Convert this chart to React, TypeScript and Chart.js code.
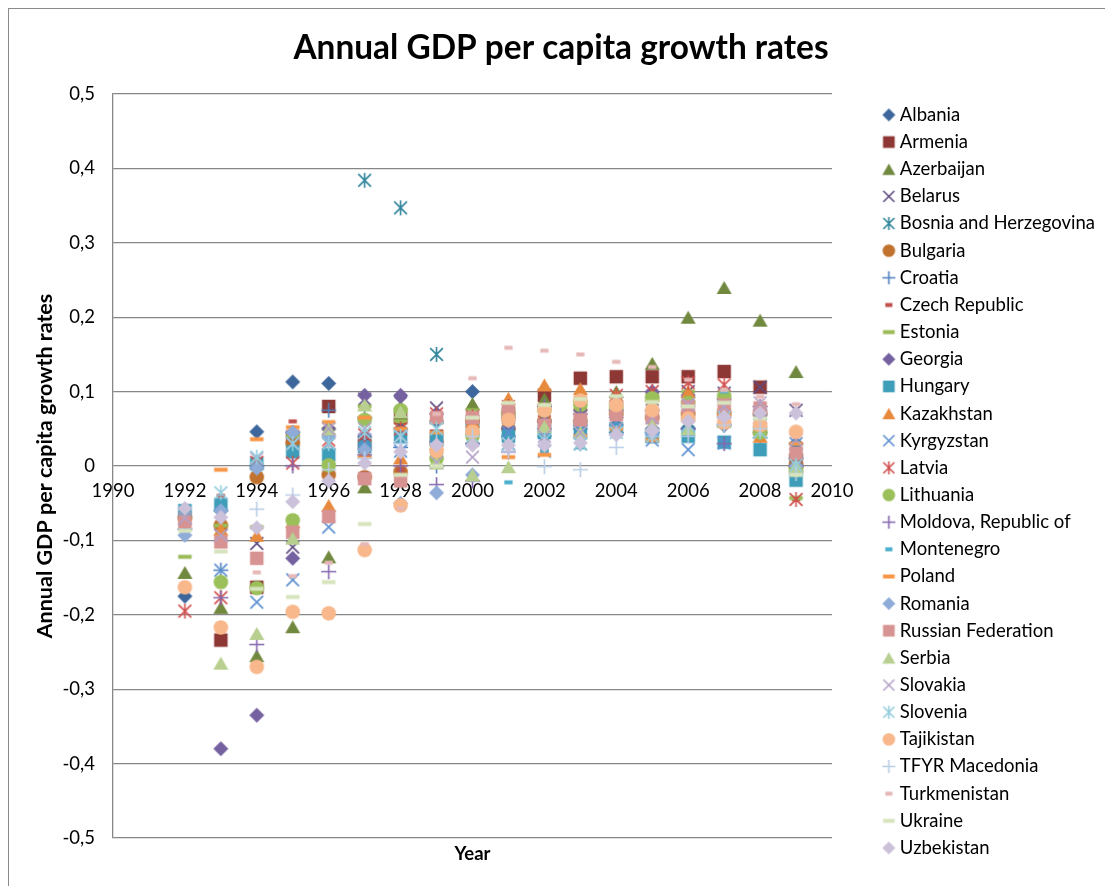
import React, { useEffect, useRef } from "react";
import { Chart, registerables } from "chart.js";

Chart.register(...registerables);

const years = [1992, 1993, 1994, 1995, 1996, 1997, 1998, 1999, 2000, 2001, 2002, 2003, 2004, 2005, 2006, 2007, 2008, 2009];

const countries = [
  "Albania", "Armenia", "Azerbaijan", "Belarus", "Bosnia and Herzegovina", "Bulgaria", "Croatia",
  "Czech Republic", "Estonia", "Georgia", "Hungary", "Kazakhstan", "Kyrgyzstan", "Latvia", "Lithuania",
  "Moldova, Republic of", "Montenegro", "Poland", "Romania", "Russian Federation", "Serbia", "Slovakia",
  "Slovenia", "Tajikistan", "TFYR Macedonia", "Turkmenistan", "Ukraine", "Uzbekistan",
];

const albania = [-0.175, -0.06, 0.046, 0.113, 0.111, 0.04, 0.05, 0.06, 0.1, 0.065, 0.04, 0.05, 0.055, 0.05, 0.05, 0.055, 0.07, 0.03];
const armenia = [null, -0.234, -0.163, 0.039, 0.08, 0.03, 0.065, 0.04, 0.06, 0.07, 0.095, 0.118, 0.12, 0.12, 0.12, 0.127, 0.106, 0.008];
const azerbaijan = [-0.143, -0.19, -0.255, -0.216, -0.122, -0.028, 0.07, 0.065, 0.084, 0.08, 0.09, 0.095, 0.1, 0.138, 0.2, 0.24, 0.196, 0.127];
const belarus = [-0.07, -0.093, -0.104, -0.109, 0.03, 0.09, 0.085, 0.078, 0.06, 0.05, 0.055, 0.075, 0.085, 0.09, 0.1, 0.098, 0.106, 0.075];
const bosnia = [null, null, null, null, null, 0.384, 0.347, 0.15, 0.055, 0.03, 0.05, 0.03, 0.05, 0.04, 0.06, 0.06, 0.055, 0.005];
const bulgaria = [-0.07, -0.08, -0.015, 0.03, -0.012, -0.015, -0.008, 0.03, 0.06, 0.05, 0.06, 0.06, 0.07, 0.065, 0.07, 0.07, 0.07, 0.0];
const croatia = [-0.085, -0.14, 0.0, 0.045, 0.075, 0.065, 0.025, 0.0, 0.03, 0.04, 0.05, 0.055, 0.045, 0.045, 0.05, 0.055, 0.038, 0.01];
const czech = [null, -0.04, 0.005, 0.06, 0.04, -0.01, -0.005, 0.015, 0.04, 0.03, 0.02, 0.035, 0.045, 0.065, 0.065, 0.06, 0.04, -0.045];
const estonia = [-0.122, -0.08, -0.082, 0.04, 0.05, 0.08, 0.06, 0.0, 0.075, 0.07, 0.08, 0.075, 0.075, 0.095, 0.1, 0.075, 0.044, -0.043];
const georgia = [null, -0.38, -0.335, -0.124, 0.05, 0.095, 0.095, 0.07, 0.03, 0.05, 0.06, 0.075, 0.065, 0.1, 0.095, 0.09, 0.045, 0.0];
const hungary = [-0.06, -0.052, 0.003, 0.019, 0.015, 0.026, 0.039, 0.035, 0.05, 0.04, 0.045, 0.045, 0.05, 0.04, 0.04, 0.032, 0.022, -0.019];
const kazakhstan = [null, -0.085, -0.093, -0.075, -0.053, 0.02, 0.011, 0.03, 0.06, 0.091, 0.109, 0.104, 0.095, 0.095, 0.1, 0.08, 0.04, 0.0];
const kyrgyzstan = [null, -0.14, -0.183, -0.153, -0.082, 0.035, 0.02, 0.025, 0.035, 0.045, 0.02, 0.05, 0.06, 0.035, 0.022, 0.031, 0.06, 0.03];
const latvia = [-0.195, -0.177, 0.005, 0.004, 0.035, 0.042, 0.05, 0.07, 0.066, 0.08, 0.075, 0.085, 0.095, 0.1, 0.112, 0.109, 0.05, -0.045];
const lithuania = [null, -0.156, -0.164, -0.073, 0.001, 0.062, 0.075, 0.01, 0.04, 0.07, 0.075, 0.082, 0.08, 0.091, 0.085, 0.094, 0.045, -0.005];
const moldova = [null, -0.177, -0.24, 0.0, -0.142, 0.015, 0.0, -0.025, -0.02, 0.019, 0.08, 0.07, 0.075, 0.075, 0.05, 0.03, 0.08, 0.0];
const montenegro = [null, null, null, null, null, null, null, null, null, -0.022, 0.02, 0.025, 0.04, 0.04, 0.085, 0.1, 0.08, 0.03];
const poland = [null, -0.005, 0.036, 0.052, 0.059, 0.065, 0.05, 0.045, 0.045, 0.012, 0.015, 0.04, 0.05, 0.035, 0.062, 0.068, 0.05, 0.03];
const romania = [-0.093, -0.06, -0.003, 0.045, 0.04, 0.022, -0.05, -0.036, -0.012, 0.06, 0.055, 0.06, 0.085, 0.045, 0.08, 0.065, 0.075, 0.0];
const russia = [-0.075, -0.102, -0.124, -0.089, -0.068, -0.017, -0.02, 0.065, 0.065, 0.075, 0.055, 0.062, 0.069, 0.065, 0.08, 0.082, 0.078, 0.017];
const serbia = [null, -0.265, -0.225, -0.097, 0.05, 0.082, 0.073, 0.004, -0.012, -0.001, 0.053, 0.045, 0.085, 0.055, 0.05, 0.06, 0.06, 0.0];
const slovakia = [-0.07, -0.093, 0.01, 0.03, 0.05, 0.05, 0.04, 0.005, 0.012, 0.03, 0.04, 0.045, 0.05, 0.065, 0.083, 0.08, 0.085, 0.035];
const slovenia = [null, -0.036, 0.012, 0.03, 0.03, 0.045, 0.04, 0.05, 0.04, 0.03, 0.035, 0.03, 0.045, 0.04, 0.055, 0.065, 0.046, 0.001];
const tajikistan = [-0.163, -0.217, -0.27, -0.196, -0.198, -0.113, -0.053, 0.02, 0.046, 0.062, 0.075, 0.088, 0.082, 0.075, 0.064, 0.058, 0.055, 0.046];
const macedonia = [null, null, -0.058, -0.039, -0.005, 0.01, 0.03, 0.03, 0.04, 0.02, -0.001, -0.005, 0.025, 0.04, 0.04, 0.055, 0.05, -0.01];
const turkmenistan = [null, null, -0.143, -0.148, -0.13, -0.105, -0.057, 0.07, 0.118, 0.159, 0.155, 0.15, 0.14, 0.133, 0.116, 0.102, 0.093, 0.083];
const ukraine = [-0.087, -0.115, -0.165, -0.176, -0.156, -0.078, -0.012, 0.0, 0.065, 0.085, 0.082, 0.09, 0.094, 0.086, 0.08, 0.085, 0.064, -0.012];
const uzbekistan = [-0.057, -0.069, -0.083, -0.048, -0.02, 0.004, 0.019, 0.028, 0.028, 0.028, 0.028, 0.031, 0.042, 0.048, 0.06, 0.066, 0.071, 0.071];

const seriesValues = [
  albania, armenia, azerbaijan, belarus, bosnia, bulgaria, croatia, czech, estonia, georgia, hungary,
  kazakhstan, kyrgyzstan, latvia, lithuania, moldova, montenegro, poland, romania, russia, serbia,
  slovakia, slovenia, tajikistan, macedonia, turkmenistan, ukraine, uzbekistan,
];

const colors = [
  "#3D679C", "#8E3836", "#71893F", "#5E4A80", "#31859C", "#C0722E", "#4F81BD",
  "#C0504D", "#9BBB59", "#7560A0", "#3E9DB8", "#E88A3E", "#5B8ED0", "#D0504D", "#9BC05A",
  "#8468AE", "#4BB0CB", "#F79646", "#8FABD8", "#D69391", "#B8CF90", "#B3A2C7",
  "#93CDDD", "#F8B88C", "#B9CDE5", "#E6B9B8", "#D7E4BD", "#CCC1DA",
];

const shapes = ["diamond", "square", "triangle", "x", "star", "circle", "plus", "dashShort", "dashLong"];

const yTicks = [-0.5, -0.4, -0.3, -0.2, -0.1, 0, 0.1, 0.2, 0.3, 0.4, 0.5];

const FONT = "Lato, 'Open Sans', sans-serif";

function makeMarker(shape: string, color: string, s: number): HTMLCanvasElement {
  const size = Math.ceil(s * 2 + 4);
  const c = document.createElement("canvas");
  c.width = size;
  c.height = size;
  const ctx = c.getContext("2d")!;
  const m = size / 2;
  ctx.fillStyle = color;
  ctx.strokeStyle = color;
  ctx.lineWidth = 1.6;
  ctx.beginPath();
  switch (shape) {
    case "diamond":
      ctx.moveTo(m, m - s);
      ctx.lineTo(m + s, m);
      ctx.lineTo(m, m + s);
      ctx.lineTo(m - s, m);
      ctx.closePath();
      ctx.fill();
      break;
    case "square": {
      const h = s * 0.9;
      ctx.fillRect(m - h, m - h, 2 * h, 2 * h);
      break;
    }
    case "triangle": {
      const hh = s * 0.87;
      ctx.moveTo(m, m - hh);
      ctx.lineTo(m + s, m + hh);
      ctx.lineTo(m - s, m + hh);
      ctx.closePath();
      ctx.fill();
      break;
    }
    case "x": {
      const k = s * 0.85;
      ctx.moveTo(m - k, m - k);
      ctx.lineTo(m + k, m + k);
      ctx.moveTo(m + k, m - k);
      ctx.lineTo(m - k, m + k);
      ctx.stroke();
      break;
    }
    case "star": {
      const k = s * 0.85;
      ctx.moveTo(m, m - s);
      ctx.lineTo(m, m + s);
      ctx.moveTo(m - k, m - k);
      ctx.lineTo(m + k, m + k);
      ctx.moveTo(m + k, m - k);
      ctx.lineTo(m - k, m + k);
      ctx.stroke();
      break;
    }
    case "circle":
      ctx.arc(m, m, s * 0.97, 0, Math.PI * 2);
      ctx.fill();
      break;
    case "plus":
      ctx.moveTo(m, m - s);
      ctx.lineTo(m, m + s);
      ctx.moveTo(m - s, m);
      ctx.lineTo(m + s, m);
      ctx.stroke();
      break;
    case "dashShort":
      ctx.fillRect(m - s * 0.55, m - 2, s * 1.1, 4);
      break;
    case "dashLong":
      ctx.fillRect(m - s * 0.9, m - 2, s * 1.8, 4);
      break;
  }
  return c;
}

const fmtTick = (v: number) => {
  const r = Math.round(v * 10) / 10;
  if (r === 0) return "0";
  return String(r).replace(".", ",");
};

export default function App() {
  const ref = useRef<HTMLCanvasElement | null>(null);

  useEffect(() => {
    document.body.style.overflow = "hidden";
    const canvas = ref.current;
    if (!canvas) return;
    const plotMarkers = countries.map((_, i) => makeMarker(shapes[i % 9], colors[i], 7.5));
    const legendMarkers = countries.map((_, i) => makeMarker(shapes[i % 9], colors[i], 6.5));

    const datasets = countries.map((name, i) => ({
      label: name,
      data: years
        .map((yr, j) => ({ x: yr, y: seriesValues[i][j] }))
        .filter((p) => p.y !== null && p.y !== undefined),
      pointStyle: plotMarkers[i],
      pointRadius: 7,
      pointHoverRadius: 7,
      backgroundColor: colors[i],
      borderColor: colors[i],
      showLine: false,
      order: countries.length - i,
    }));

    const textPlugin = {
      id: "extraText",
      afterDraw(chart: any) {
        const { ctx, chartArea } = chart;
        ctx.save();
        ctx.fillStyle = "#000";
        ctx.textAlign = "center";
        ctx.textBaseline = "middle";
        ctx.font = `bold 33.4px ${FONT}`;
        ctx.fillText("Annual GDP per capita growth rates", 561, 48);
        ctx.font = `bold 18.5px ${FONT}`;
        ctx.fillText("Year", (chartArea.left + chartArea.right) / 2, chartArea.bottom + 16);
        ctx.restore();
      },
    };

    const chart = new Chart(canvas, {
      type: "scatter",
      data: { datasets: datasets as any },
      options: {
        animation: false,
        responsive: false,
        devicePixelRatio: 1,
        layout: { padding: { top: 94, bottom: 0, left: 0, right: 0 } },
        scales: {
          x: {
            type: "linear",
            min: 1990,
            max: 2010,
            position: { y: 0 } as any,
            ticks: {
              stepSize: 2,
              padding: 14,
              color: "#000",
              font: { family: FONT, size: 18.5 },
              callback: (v: any) => String(v),
            },
            grid: { display: false, drawTicks: false },
            border: { display: false },
          },
          bottomSpace: {
            type: "linear",
            position: "bottom",
            display: true,
            grid: { display: false, drawTicks: false },
            ticks: { display: false },
            border: { display: false },
            afterFit: (s: any) => {
              s.height = 48;
            },
          },
          y: {
            type: "linear",
            min: -0.5,
            max: 0.5,
            afterBuildTicks: (s: any) => {
              s.ticks = yTicks.map((v) => ({ value: v }));
            },
            ticks: {
              padding: 18,
              color: "#000",
              font: { family: FONT, size: 18.5 },
              callback: (v: any) => fmtTick(Number(v)),
            },
            grid: { color: "#878787", lineWidth: 1.3, drawTicks: false },
            border: { color: "#878787", width: 1.3 },
            title: {
              display: true,
              text: "Annual GDP per capita growth rates",
              color: "#000",
              font: { family: FONT, size: 21.5, weight: "bold" },
              padding: { top: 32, bottom: 0 },
            },
            afterFit: (s: any) => {
              s.width = 113;
            },
          },
          spacer: {
            type: "linear",
            position: "right",
            display: true,
            grid: { display: false, drawTicks: false },
            ticks: { display: false },
            border: { display: false },
            afterFit: (s: any) => {
              s.width = 46.5;
            },
          },
        },
        plugins: {
          title: { display: false },
          tooltip: { enabled: false },
          legend: {
            display: true,
            position: "right",
            align: "start",
            maxWidth: 300,
            title: { display: true, text: "", font: { size: 2.5 }, padding: 0 },
            labels: {
              usePointStyle: true,
              boxWidth: 3.5,
              padding: 8.65,
              color: "#000",
              font: { family: FONT, size: 18.5 },
              generateLabels: (ch: any) => {
                const items = (Chart.defaults.plugins.legend.labels as any).generateLabels(ch);
                items.sort((a: any, b: any) => a.datasetIndex - b.datasetIndex);
                items.forEach((it: any) => {
                  it.pointStyle = legendMarkers[it.datasetIndex];
                });
                return items;
              },
            },
          },
        },
      },
      plugins: [textPlugin],
    });

    let alive = true;
    if ((document as any).fonts && (document as any).fonts.load) {
      Promise.all([
        (document as any).fonts.load(`17px Lato`),
        (document as any).fonts.load(`bold 17px Lato`),
      ])
        .then(() => {
          if (alive) chart.update();
        })
        .catch(() => {});
    }

    return () => {
      alive = false;
      chart.destroy();
    };
  }, []);

  return (
    <>
      <div
        style={{
          position: "absolute",
          left: 8,
          top: 8,
          width: 1097,
          height: 878,
          boxSizing: "border-box",
          borderLeft: "1px solid #8a8a8a",
          borderTop: "1px solid #8a8a8a",
        }}
      />
      <canvas
        ref={ref}
        width={1105}
        height={886}
        style={{ position: "absolute", left: 0, top: 0, width: 1105, height: 886 }}
      />
    </>
  );
}
